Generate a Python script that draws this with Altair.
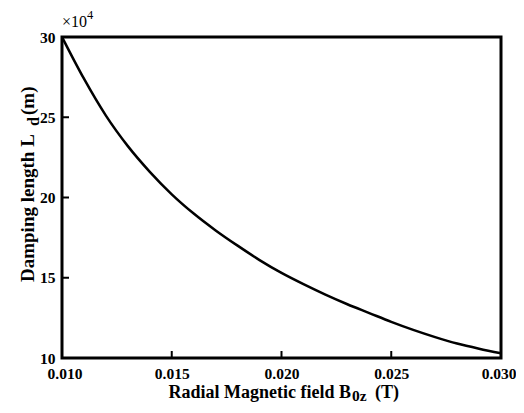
import altair as alt
import pandas as pd

# Data
b0z = [0.010, 0.011, 0.012, 0.013, 0.014, 0.015, 0.016, 0.017, 0.018, 0.019, 0.020,
       0.021, 0.022, 0.023, 0.024, 0.025, 0.026, 0.027, 0.028, 0.029, 0.030]
ld = [30.0, 27.4, 25.1, 23.2, 21.6, 20.2, 19.0, 17.95, 17.0, 16.1, 15.3,
      14.6, 13.95, 13.35, 12.8, 12.25, 11.75, 11.3, 10.9, 10.58, 10.3]
x_ticks = [0.010, 0.015, 0.020, 0.025, 0.030]
y_ticks = [10, 15, 20, 25, 30]
x_inner_ticks = [0.015, 0.020, 0.025]
y_inner_ticks = [15, 20, 25]

W, H = 439, 321
FONT = "Liberation Serif"

df = pd.DataFrame({"b": b0z, "ld": ld})

xscale = alt.Scale(domain=[0.010, 0.030], nice=False, zero=False)
yscale = alt.Scale(domain=[10, 30], nice=False, zero=False)

line = alt.Chart(df).mark_line(color="black", strokeWidth=2.5, interpolate="monotone").encode(
    x=alt.X("b:Q", scale=xscale,
            axis=alt.Axis(values=x_ticks, format=".3f", title=None, tickSize=0, domain=False,
                          grid=False, labelFont=FONT, labelFontSize=15.5, labelFontWeight="bold",
                          labelColor="black", labelPadding=8, labelFlush=True,
                          labelFlushOffset=15)),
    y=alt.Y("ld:Q", scale=yscale,
            axis=alt.Axis(values=y_ticks, title=None, tickSize=0, domain=False, grid=False,
                          labelFont=FONT, labelFontSize=15.5, labelFontWeight="bold",
                          labelColor="black", labelPadding=7, labelFlush=False)),
)

xt = alt.Chart(pd.DataFrame({"v": x_inner_ticks})).mark_rule(color="black", strokeWidth=2).encode(
    x=alt.X("v:Q", scale=xscale), y=alt.value(H), y2=alt.value(H - 7))
yt = alt.Chart(pd.DataFrame({"v": y_inner_ticks})).mark_rule(color="black", strokeWidth=2).encode(
    y=alt.Y("v:Q", scale=yscale), x=alt.value(0), x2=alt.value(7))


def txt(s, x, y, size=19, weight="bold", align="left", angle=0):
    return alt.Chart(pd.DataFrame({"t": [s]})).mark_text(
        font=FONT, fontSize=size, fontWeight=weight, align=align, baseline="alphabetic",
        angle=angle, color="black").encode(text="t:N", x=alt.value(x), y=alt.value(y))


texts = [
    txt("Radial Magnetic field B", 289, 361, size=18, align="right"),
    txt("0z", 290, 364, size=15.5),
    txt("(T)", 313, 361, size=18),
    txt("Damping length L", -28, 245, angle=270),
    txt("d", -23, 89, size=16, angle=270),
    txt("(m)", -28, 78, angle=270),
    txt("\u00d710", 0, -10, size=16, weight="normal"),
    txt("4", 25, -18, size=12.5, weight="normal"),
]

chart = alt.layer(line, xt, yt, *texts).properties(
    width=W, height=H,
    autosize=alt.AutoSizeParams(type="none"),
    padding={"left": 54, "top": 29, "right": 15, "bottom": 47},
).configure_view(stroke="black", strokeWidth=3)

chart.save("out.html", embed_options={"renderer": "svg", "actions": False})
